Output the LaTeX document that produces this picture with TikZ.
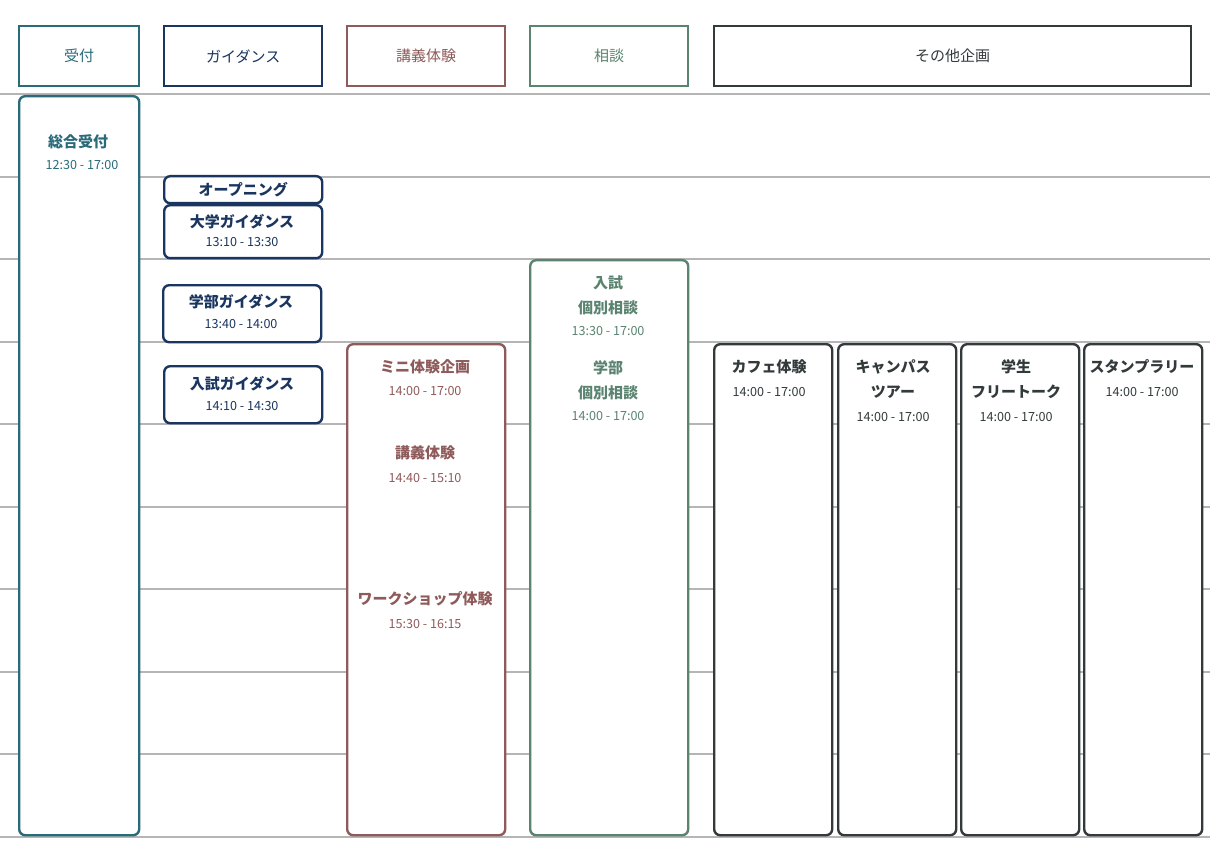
\documentclass[tikz,border=0pt]{standalone}
\usepackage{fontspec}
\setmainfont{Noto Sans CJK JP}
\usetikzlibrary{positioning}
\definecolor{teal1}{HTML}{2A6B7A}
\definecolor{navy1}{HTML}{1A3560}
\definecolor{red1}{HTML}{8F5A5A}
\definecolor{green1}{HTML}{5A8370}
\definecolor{dark1}{HTML}{333A3C}
\definecolor{grid1}{HTML}{B5B5B5}
\tikzset{
  slot/.style args={#1/#2/#3}{draw=#1, line width=1.2pt, rounded corners=3pt, anchor=north west,
    minimum width=#2*0.5pt, minimum height=#3*0.5pt, inner sep=0pt},
  head/.style args={#1/#2}{draw=#1, line width=1.2pt, anchor=north west, text=#1,
    minimum width=#2*0.5pt, minimum height=30pt, inner sep=0pt, font=\fontsize{7.5}{9}\selectfont},
  ttl/.style={font=\fontsize{7.5}{9}\selectfont\bfseries, text=#1},
  tim/.style={font=\fontsize{6.3}{8}\selectfont, text=#1}
}
\begin{document}
\begin{tikzpicture}[x=0.5pt,y=-0.5pt]
  \fill[white] (0,0) rectangle (1220,866);
  \useasboundingbox (0,0) rectangle (1220,866);
  % time grid
  \foreach \y in {94,177,259,342,424,507,589,672,754,837}
    \draw[grid1, line width=0.9pt] (0,\y) -- (1210,\y);
  % column heads
  \node[head=teal1/120] (h1) at (18,25) {受付};
  \node[head=navy1/158] (h2) at (163,25) {ガイダンス};
  \node[head=red1/158] (h3) at (346,25) {講義体験};
  \node[head=green1/158] (h4) at (529,25) {相談};
  \node[head=dark1/477] (h5) at (713,25) {その他企画};
  % reception
  \node[slot=teal1/120/739, fill=white] (uketsuke) at (18,95) {};
  \node[ttl=teal1] at (78,142) {総合受付};
  \node[tim=teal1] at (82,165) {12:30 - 17:00};
  % guidance
  \node[slot=navy1/158/27, fill=white, ttl=navy1] (open) at (163,175) {オープニング};
  \node[slot=navy1/158/53, fill=white] (daigaku) at (163,204) {};
  \node[ttl=navy1] at (242,222) {大学ガイダンス};
  \node[tim=navy1] at (242,242) {13:10 - 13:30};
  \node[slot=navy1/158/57, fill=white] (gakubu) at (162,284) {};
  \node[ttl=navy1] at (241,302) {学部ガイダンス};
  \node[tim=navy1] at (241,324) {13:40 - 14:00};
  \node[slot=navy1/158/57, fill=white] (nyushi) at (163,365) {};
  \node[ttl=navy1] at (242,384) {入試ガイダンス};
  \node[tim=navy1] at (242,406) {14:10 - 14:30};
  % lectures
  \node[slot=red1/158/491, fill=white] (kogi) at (346,343) {};
  \node[ttl=red1] at (425,367) {ミニ体験企画};
  \node[tim=red1] at (425,391) {14:00 - 17:00};
  \node[ttl=red1] at (425,453) {講義体験};
  \node[tim=red1] at (425,478) {14:40 - 15:10};
  \node[ttl=red1] at (425,599) {ワークショップ体験};
  \node[tim=red1] at (425,624) {15:30 - 16:15};
  % consultation
  \node[slot=green1/158/575, fill=white] (sodan) at (529,259) {};
  \node[ttl=green1] at (608,283) {入試};
  \node[ttl=green1] at (608,308) {個別相談};
  \node[tim=green1] at (608,331) {13:30 - 17:00};
  \node[ttl=green1] at (608,368) {学部};
  \node[ttl=green1] at (608,393) {個別相談};
  \node[tim=green1] at (608,416) {14:00 - 17:00};
  % other events
  \node[slot=dark1/118/491, fill=white] (cafe) at (713,343) {};
  \node[ttl=dark1] at (769,367) {カフェ体験};
  \node[tim=dark1] at (769,392) {14:00 - 17:00};
  \node[slot=dark1/118/491, fill=white] (tour) at (837,343) {};
  \node[ttl=dark1] at (893,367) {キャンパス};
  \node[ttl=dark1] at (893,392) {ツアー};
  \node[tim=dark1] at (893,417) {14:00 - 17:00};
  \node[slot=dark1/118/491, fill=white] (talk) at (960,343) {};
  \node[ttl=dark1] at (1016,367) {学生};
  \node[ttl=dark1] at (1016,392) {フリートーク};
  \node[tim=dark1] at (1016,417) {14:00 - 17:00};
  \node[slot=dark1/118/491, fill=white] (stamp) at (1083,343) {};
  \node[ttl=dark1] at (1142,367) {スタンプラリー};
  \node[tim=dark1] at (1142,392) {14:00 - 17:00};
\end{tikzpicture}
\end{document}
